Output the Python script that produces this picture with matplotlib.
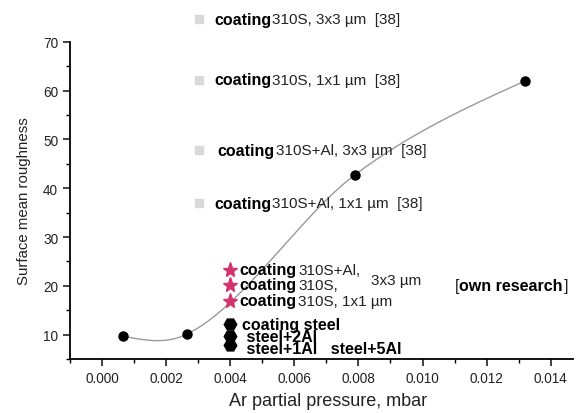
import numpy as np
import matplotlib
matplotlib.use("Agg")
import matplotlib.pyplot as plt
from matplotlib.ticker import MultipleLocator, FormatStrFormatter

plt.rcParams['font.family'] = ['Liberation Sans', 'DejaVu Sans']

# main measured series
pressure = [0.00065, 0.00265, 0.0079, 0.0132]
roughness = [9.7, 10.1, 42.8, 62.0]

# literature [38] (gray squares)
lit_x = [0.00304, 0.00304, 0.00304, 0.00304]
lit_y = [74.6, 62.2, 47.8, 36.9]
lit_labels = ["310S, 3x3 µm  [38]", "310S, 1x1 µm  [38]",
              "310S+Al, 3x3 µm  [38]", "310S+Al, 1x1 µm  [38]"]

# own research coatings (stars)
star_x = [0.0040, 0.0040, 0.0040]
star_y = [23.3, 20.2, 16.9]
star_labels = ["310S+Al,", "310S,", "310S, 1x1 µm"]

# steel (black hexagons)
steel_x = [0.0040, 0.0040, 0.0040]
steel_y = [12.2, 9.8, 7.9]
steel_block = "coating steel\n steel+2Al\n steel+1Al   steel+5Al"


def hermite_curve(x, y, n=400):
    """Cubic Hermite spline with finite-difference tangents and natural ends."""
    x = np.asarray(x, float); y = np.asarray(y, float)
    h = np.diff(x)
    s = np.diff(y) / h
    m = np.empty_like(x)
    m[1:-1] = (s[:-1] + s[1:]) / 2
    m[0] = (3 * s[0] - m[1]) / 2
    m[-1] = (3 * s[-1] - m[-2]) / 2
    xs = np.linspace(x[0], x[-1], n)
    ys = np.empty_like(xs)
    for k, xv in enumerate(xs):
        i = min(max(np.searchsorted(x, xv) - 1, 0), len(x) - 2)
        t = (xv - x[i]) / h[i]
        h00 = 2 * t**3 - 3 * t**2 + 1
        h10 = t**3 - 2 * t**2 + t
        h01 = -2 * t**3 + 3 * t**2
        h11 = t**3 - t**2
        ys[k] = h00 * y[i] + h10 * h[i] * m[i] + h01 * y[i + 1] + h11 * h[i] * m[i + 1]
    return xs, ys


fig = plt.figure(figsize=(5.81, 4.14), dpi=100)
ax = fig.add_axes([0.1205, 0.1304, 0.866, 0.766])

cx, cy = hermite_curve(pressure, roughness)
ax.plot(cx, cy, color='#9a9a9a', lw=1.0, zorder=1)
ax.plot(pressure, roughness, 'o', color='black', ms=6.5, zorder=3)

ax.plot(lit_x, lit_y, 's', color='#d9d9d9', ms=6, clip_on=False, zorder=3)
ax.plot(star_x, star_y, '*', color='#d4336e', ms=11, mec='#d4336e', zorder=3)
ax.plot(steel_x, steel_y, 'H', color='black', ms=9, zorder=3)

fb = 11.5   # bold size
fn = 11.0   # normal size
txt = '#222222'


def chain(prev, s, gap=1.5, **kw):
    return ax.annotate(s, xy=(1, 0.5), xycoords=prev, xytext=(gap, 0),
                       textcoords='offset points', va='center', ha='left',
                       annotation_clip=False, **kw)


tx_bold = [0.0035, 0.0035, 0.0036, 0.0035]
for i in range(4):
    t = ax.text(tx_bold[i], lit_y[i], "coating", fontweight='bold', fontsize=fb,
                va='center', ha='left', clip_on=False)
    chain(t, lit_labels[i], gap=0.8, fontsize=fn, color=txt)

for i in range(3):
    t = ax.text(0.00428, star_y[i], "coating", fontweight='bold', fontsize=fb,
                va='center', ha='left')
    chain(t, star_labels[i], gap=1.5, fontsize=fn, color=txt)
ax.text(0.0084, 21.2, "3x3 µm", fontsize=fn, va='center', ha='left', color=txt)

ax.text(0.00437, steel_y[1] - 0.2, steel_block, fontweight='bold', fontsize=fb,
        va='center', ha='left', linespacing=0.74)

b1 = ax.text(0.0110, 20.0, "[", fontsize=fb, va='center', ha='left', color=txt)
b2 = chain(b1, "own research", gap=0.3, fontweight='bold', fontsize=fb)
chain(b2, "]", gap=0.3, fontsize=fb, color=txt)

ax.set_xlim(-0.001, 0.0147)
ax.set_ylim(5, 70)
ax.xaxis.set_major_locator(MultipleLocator(0.002))
ax.xaxis.set_minor_locator(MultipleLocator(0.001))
ax.xaxis.set_major_formatter(FormatStrFormatter('%.3f'))
ax.yaxis.set_major_locator(MultipleLocator(10))
ax.yaxis.set_minor_locator(MultipleLocator(5))
ax.set_xticks(np.arange(0, 0.0141, 0.002))

for s in ['top', 'right']:
    ax.spines[s].set_visible(False)
for s in ['left', 'bottom']:
    ax.spines[s].set_linewidth(1.3)
ax.tick_params(which='major', direction='out', length=5, width=1.2, labelsize=9.8, colors=txt)
ax.tick_params(which='minor', direction='out', length=3, width=1.0)

ax.set_xlabel("Ar partial pressure, mbar", fontsize=13, color=txt, labelpad=5)
ax.xaxis.label.set_x(0.512)
ax.set_ylabel("Surface mean roughness", fontsize=10.8, color=txt, labelpad=9)

fig.savefig("out.png", dpi=100)
